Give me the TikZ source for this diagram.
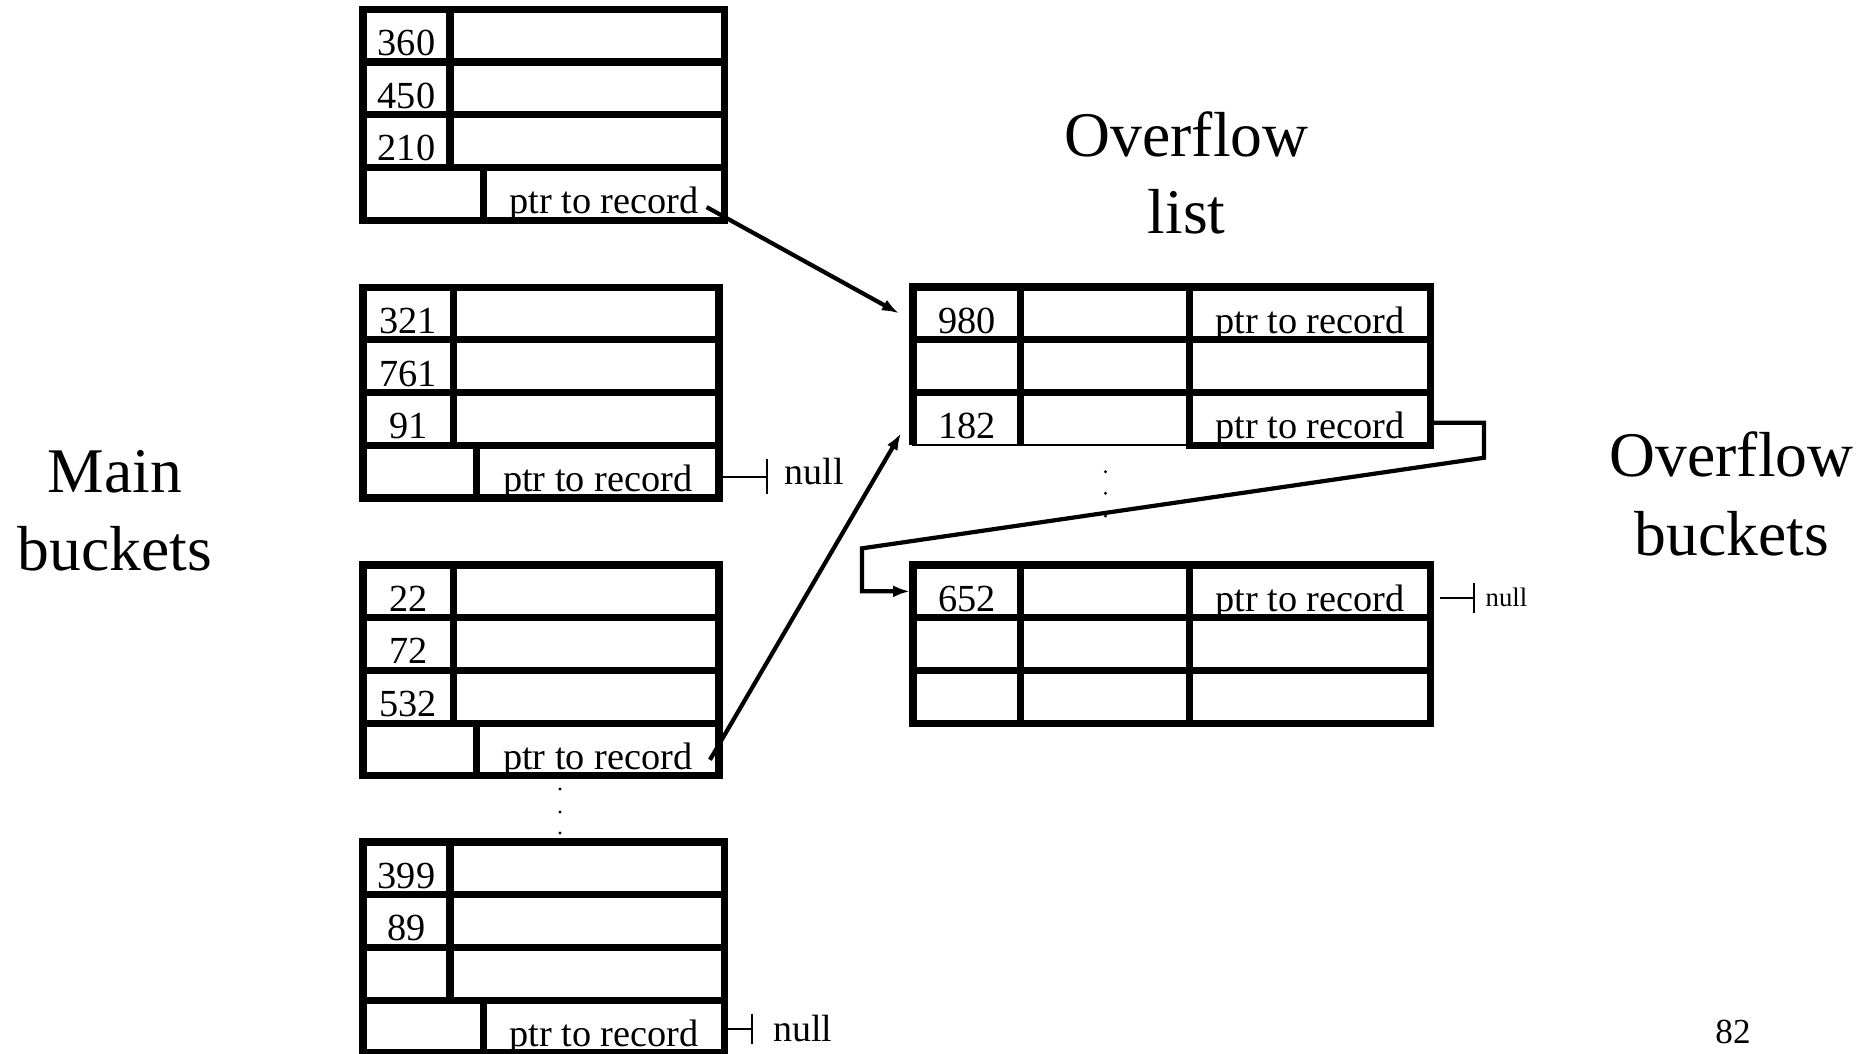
\documentclass[tikz,border=0pt]{standalone}
\usepackage{fontspec}
\setmainfont{Liberation Serif}
\usetikzlibrary{positioning,arrows.meta}

\tikzset{
  cell/.style={draw, line width=2pt, inner sep=0pt, outer sep=0pt,
    minimum width=#1, minimum height=0.527cm,
    text height=0.462cm, text depth=0.065cm,
    font=\fontsize{10.9}{13}\selectfont},
  thincell/.style={cell=#1, line width=0.6pt},
  ptr/.style={line width=1.2pt, -{Latex[length=0.17cm,width=0.12cm]}},
  nullptr/.style={line width=0.6pt, -{Bar[width=#1]}},
  nulltext/.style={inner sep=0pt, anchor=base west, font=\fontsize{10.8}{13}\selectfont},
  heading/.style={inner sep=0pt, anchor=base, font=\fontsize{18.1}{22}\selectfont}
}

\begin{document}
\begin{tikzpicture}
  \useasboundingbox (0,0) rectangle (18.76,-10.54);

  % Main buckets
  \node[cell=0.87cm, anchor=north west] (a1) at (3.63,-0.093) {360};
  \node[cell=2.746cm, right=0pt of a1] (a1v) {};
  \node[cell=0.87cm, below=0pt of a1] (a2) {450};
  \node[cell=2.746cm, right=0pt of a2] (a2v) {};
  \node[cell=0.87cm, below=0pt of a2] (a3) {210};
  \node[cell=2.746cm, right=0pt of a3] (a3v) {};
  \node[cell=1.205cm, anchor=north west] (a4) at (a3.south west) {};
  \node[cell=2.411cm, right=0pt of a4] (a4v) {ptr to record};

  \node[cell=0.907cm, anchor=north west] (b1) at (3.63,-2.872) {321};
  \node[cell=2.653cm, right=0pt of b1] (b1v) {};
  \node[cell=0.907cm, below=0pt of b1] (b2) {761};
  \node[cell=2.653cm, right=0pt of b2] (b2v) {};
  \node[cell=0.907cm, below=0pt of b2] (b3) {91};
  \node[cell=2.653cm, right=0pt of b3] (b3v) {};
  \node[cell=1.136cm, anchor=north west] (b4) at (b3.south west) {};
  \node[cell=2.424cm, right=0pt of b4] (b4v) {ptr to record};

  \node[cell=0.907cm, anchor=north west] (c1) at (3.63,-5.65) {22};
  \node[cell=2.653cm, right=0pt of c1] (c1v) {};
  \node[cell=0.907cm, below=0pt of c1] (c2) {72};
  \node[cell=2.653cm, right=0pt of c2] (c2v) {};
  \node[cell=0.907cm, below=0pt of c2] (c3) {532};
  \node[cell=2.653cm, right=0pt of c3] (c3v) {};
  \node[cell=1.136cm, anchor=north west] (c4) at (c3.south west) {};
  \node[cell=2.424cm, right=0pt of c4] (c4v) {ptr to record};

  \node[cell=0.87cm, anchor=north west] (d1) at (3.63,-8.42) {399};
  \node[cell=2.746cm, right=0pt of d1] (d1v) {};
  \node[cell=0.87cm, below=0pt of d1] (d2) {89};
  \node[cell=2.746cm, right=0pt of d2] (d2v) {};
  \node[cell=0.87cm, below=0pt of d2] (d3) {};
  \node[cell=2.746cm, right=0pt of d3] (d3v) {};
  \node[cell=1.205cm, anchor=north west] (d4) at (d3.south west) {};
  \node[cell=2.411cm, right=0pt of d4] (d4v) {ptr to record};

  % dots between buckets
  \foreach \y in {-7.89,-8.12,-8.33}
    \fill (5.6,\y) circle (0.016);

  % Overflow list
  \node[cell=1.075cm, anchor=north west] (o1) at (9.13,-2.87) {980};
  \node[cell=1.687cm, right=0pt of o1] (o1m) {};
  \node[cell=2.417cm, right=0pt of o1m] (o1v) {ptr to record};
  \node[cell=1.075cm, below=0pt of o1] (o2) {};
  \node[cell=1.687cm, right=0pt of o2] (o2m) {};
  \node[cell=2.417cm, right=0pt of o2m] (o2v) {};
  \node[thincell=1.075cm, below=0pt of o2] (o3) {182};
  \node[thincell=1.687cm, right=0pt of o3] (o3m) {};
  \node[cell=2.417cm, right=0pt of o3m] (o3v) {ptr to record};
  \draw[line width=2pt] (o3.south west) -- (o3.north west) (o3m.north west) -- (o3m.south west);

  \foreach \y in {-4.717,-4.933,-5.16}
    \fill (11.055,\y) circle (0.016);

  % Overflow buckets
  \node[cell=1.075cm, anchor=north west] (ob1) at (9.13,-5.65) {652};
  \node[cell=1.687cm, right=0pt of ob1] (ob1m) {};
  \node[cell=2.417cm, right=0pt of ob1m] (ob1v) {ptr to record};
  \node[cell=1.075cm, below=0pt of ob1] (ob2) {};
  \node[cell=1.687cm, right=0pt of ob2] (ob2m) {};
  \node[cell=2.417cm, right=0pt of ob2m] (ob2v) {};
  \node[cell=1.075cm, below=0pt of ob2] (ob3) {};
  \node[cell=1.687cm, right=0pt of ob3] (ob3m) {};
  \node[cell=2.417cm, right=0pt of ob3m] (ob3v) {};

  % Pointers
  \draw[ptr] ([xshift=-0.18cm,yshift=0.13cm]a4v.south east) -- ([xshift=-0.14cm]o1.west);
  \draw[ptr] ([xshift=-0.09cm,yshift=0.16cm]c4v.south east) -- ([xshift=-0.12cm,yshift=0.12cm]o3.south west);
  \draw[ptr] ([yshift=-0.04cm]o3v.east) -- ++(0.53,0) -- ++(0,-0.35)
    -- ([xshift=-0.51cm,yshift=0.43cm]ob1.west) |- ([xshift=-0.03cm]ob1.west);

  % Null ends
  \node[nulltext] (bnull) at (7.84,-4.84) {null};
  \node[nulltext] (dnull) at (7.724,-10.417) {null};
  \node[nulltext, font=\fontsize{7.6}{9}\selectfont] (obnull) at (14.85,-6.067) {null};
  \draw[nullptr=0.35cm, shorten >=0.16cm] ([yshift=-0.057cm]b4v.east |- bnull) -- ([yshift=-0.057cm]bnull.west);
  \draw[nullptr=0.3cm, shorten >=0.19cm] (d4v.east |- dnull) -- (dnull);
  \draw[nullptr=0.3cm, shorten <=0.09cm, shorten >=0.1cm] (ob1v.east |- obnull) -- (obnull);

  % Labels
  \node[heading] (main) at (1.15,-4.927) {Main};
  \node[heading] (mainb) at (1.15,-5.70) {buckets};
  \node[heading] (ovl) at (11.867,-1.567) {Overflow};
  \node[heading] (ovlb) at (11.867,-2.333) {list};
  \node[heading] (ovb) at (17.317,-4.767) {Overflow};
  \node[heading] (ovbb) at (17.317,-5.55) {buckets};
  \node[heading, font=\fontsize{10}{12}\selectfont] (page) at (17.33,-10.43) {82};
\end{tikzpicture}
\end{document}
